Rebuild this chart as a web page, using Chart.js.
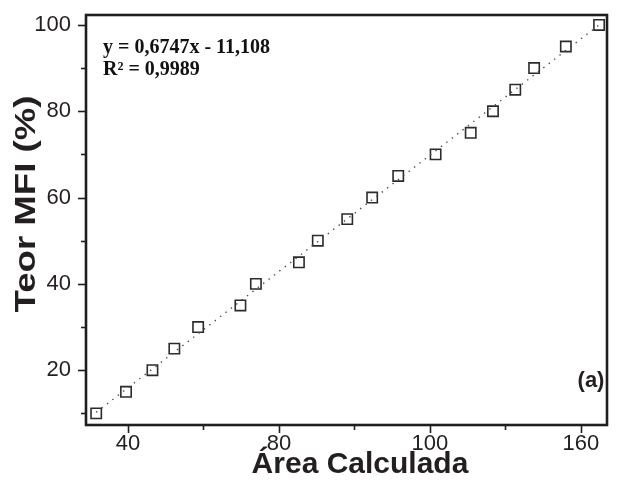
<!DOCTYPE html>
<html>
<head>
<meta charset="utf-8">
<script src="https://cdn.jsdelivr.net/npm/chart.js@4.4.1/dist/chart.umd.min.js"></script>
<style>
  html, body { margin: 0; padding: 0; background: #fff; }
  #wrap { width: 638px; height: 494px; }
</style>
</head>
<body>
<div id="wrap"><canvas id="myChart" width="638" height="494"></canvas></div>
<script>
// Teor MFI (%) x área calculada
const areaCalculada = [31.6, 39.5, 46.5, 52.3, 58.6, 69.8, 73.9, 85.3, 90.3, 98.1,
                       104.7, 111.6, 121.5, 130.8, 136.7, 142.6, 147.6, 156.0, 164.8];
const teorMFI = [10, 15, 20, 25, 30, 35, 40, 45, 50, 55,
                 60, 65, 70, 75, 80, 85, 90, 95, 100];

// tick labels as printed on the original figure
const xTickValues = [40, 80, 120, 160];
const xTickLabels = ['40', '80', '100', '160'];
const xMinorTicks = [60, 100, 140];
const yTickValues = [20, 40, 60, 80, 100];
const yTickLabels = ['20', '40', '60', '80', '100'];
const yMinorTicks = [10, 30, 50, 70, 90];

const xTitle = 'Área Calculada';
const yTitle = 'Teor MFI (%)';
const equationText = 'y = 0,6747x - 11,108';
const r2Text = 'R² = 0,9989';
const panelLabel = '(a)';

const textColor = '#231f20';
const sans = '"Liberation Sans", Arial, sans-serif';
const serif = '"Liberation Serif", "Times New Roman", serif';

// least squares line through the points
function linearFit(xs, ys) {
    const n = xs.length;
    let sx = 0, sy = 0, sxx = 0, sxy = 0;
    for (let i = 0; i < n; i++) {
        sx += xs[i]; sy += ys[i];
        sxx += xs[i] * xs[i]; sxy += xs[i] * ys[i];
    }
    const a = (n * sxy - sx * sy) / (n * sxx - sx * sx);
    const b = (sy - a * sx) / n;
    return { a, b };
}

const fit = linearFit(areaCalculada, teorMFI);
const xLo = Math.min(...areaCalculada);
const xHi = Math.max(...areaCalculada);
const trendPoints = [
    { x: xLo, y: fit.a * xLo + fit.b },
    { x: xHi, y: fit.a * xHi + fit.b }
];
const points = areaCalculada.map((x, i) => ({ x: x, y: teorMFI[i] }));

// frame, tick marks, axis titles and text notes
const framePlugin = {
    id: 'frame',
    afterDraw(chart) {
        const { ctx, chartArea: ca, scales } = chart;
        const xs = scales.x, ys = scales.y;
        ctx.save();
        ctx.strokeStyle = '#1e1e1e';
        ctx.lineWidth = 1.6;
        xTickValues.forEach(v => {
            const px = Math.round(xs.getPixelForValue(v)) + 0.5;
            ctx.beginPath(); ctx.moveTo(px, ca.bottom); ctx.lineTo(px, ca.bottom + 8); ctx.stroke();
        });
        xMinorTicks.forEach(v => {
            const px = Math.round(xs.getPixelForValue(v)) + 0.5;
            ctx.beginPath(); ctx.moveTo(px, ca.bottom); ctx.lineTo(px, ca.bottom + 5); ctx.stroke();
        });
        yTickValues.forEach(v => {
            const py = Math.round(ys.getPixelForValue(v)) + 0.5;
            ctx.beginPath(); ctx.moveTo(ca.left, py); ctx.lineTo(ca.left - 8, py); ctx.stroke();
        });
        yMinorTicks.forEach(v => {
            const py = Math.round(ys.getPixelForValue(v)) + 0.5;
            ctx.beginPath(); ctx.moveTo(ca.left, py); ctx.lineTo(ca.left - 5, py); ctx.stroke();
        });

        ctx.lineWidth = 2.6;
        ctx.strokeRect(ca.left, ca.top, ca.right - ca.left, ca.bottom - ca.top);

        ctx.fillStyle = textColor;
        ctx.font = 'bold 30px ' + sans;
        ctx.textAlign = 'center';
        ctx.textBaseline = 'alphabetic';
        ctx.fillText(xTitle, 360, 473);

        // the printed y title is longer than its letter height suggests
        ctx.save();
        ctx.translate(35, 204);
        ctx.rotate(-Math.PI / 2);
        const w = ctx.measureText(yTitle).width;
        ctx.scale(217 / w, 1);
        ctx.fillText(yTitle, 0, 0);
        ctx.restore();

        ctx.font = 'bold 20px ' + serif;
        ctx.textAlign = 'left';
        ctx.fillStyle = '#111';
        ctx.fillText(equationText, ca.left + 17, 53);
        ctx.fillText(r2Text, ca.left + 17, 75);

        ctx.font = 'bold 22px ' + sans;
        ctx.textAlign = 'center';
        ctx.fillStyle = textColor;
        ctx.fillText(panelLabel, 591, 387);
        ctx.restore();
    }
};

const ctx = document.getElementById('myChart').getContext('2d');

const myChart = new Chart(ctx, {
    type: 'scatter',
    data: {
        datasets: [
            {
                label: 'Ajuste linear',
                data: trendPoints,
                showLine: true,
                borderColor: '#4a4a4a',
                borderWidth: 1.4,
                borderDash: [1.4, 5.4],
                pointRadius: 0,
                fill: false
            },
            {
                label: 'Teor MFI',
                data: points,
                pointStyle: 'rect',
                pointRadius: 7.3,
                pointBorderWidth: 1.6,
                pointBorderColor: '#2b2b2b',
                pointBackgroundColor: 'rgba(255,255,255,0)'
            }
        ]
    },
    options: {
        responsive: false,
        animation: false,
        devicePixelRatio: 1,
        layout: { padding: { left: 0, top: 15, right: 31, bottom: 0 } },
        plugins: {
            legend: { display: false },
            tooltip: { enabled: false }
        },
        scales: {
            x: {
                type: 'linear',
                min: 28.9,
                max: 166.9,
                afterBuildTicks: s => { s.ticks = xTickValues.map(v => ({ value: v })); },
                afterFit: s => {
                    s.height = 69;
                    s.paddingLeft = 0; s.paddingRight = 0;
                },
                grid: { display: false, drawTicks: false },
                border: { display: false },
                ticks: {
                    autoSkip: false,
                    maxRotation: 0,
                    padding: 6,
                    color: textColor,
                    font: { family: sans, size: 22 },
                    callback: v => xTickLabels[xTickValues.indexOf(v)] ?? ''
                }
            },
            y: {
                type: 'linear',
                min: 7.3,
                max: 102.3,
                afterBuildTicks: s => { s.ticks = yTickValues.map(v => ({ value: v })); },
                afterFit: s => {
                    s.width = 86;
                    s.paddingTop = 0; s.paddingBottom = 0;
                },
                grid: { display: false, drawTicks: false },
                border: { display: false },
                ticks: {
                    autoSkip: false,
                    padding: 15,
                    color: textColor,
                    font: { family: sans, size: 22 },
                    callback: v => yTickLabels[yTickValues.indexOf(v)] ?? ''
                }
            }
        }
    },
    plugins: [framePlugin]
});
</script>
</body>
</html>
